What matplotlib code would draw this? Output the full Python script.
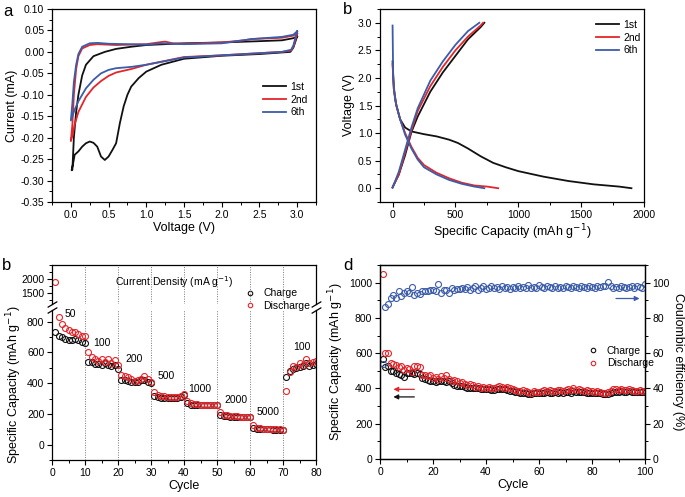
import matplotlib
matplotlib.use('Agg')
import matplotlib.pyplot as plt
from matplotlib.ticker import MultipleLocator

plt.rcParams['font.family'] = ['Liberation Sans', 'DejaVu Sans']
plt.rcParams['font.size'] = 7.5
plt.rcParams['xtick.direction'] = 'out'
plt.rcParams['ytick.direction'] = 'out'
plt.rcParams['axes.linewidth'] = 0.9

BLACK, RED, BLUE = '#111111', '#e3262b', '#3b5ca8'

# ---- panel a: CV curves (cathodic sweep then anodic sweep) ----
cv1_v = [3.0, 2.95, 2.91, 2.5, 2.0, 1.5, 1.2, 1.0, 0.9, 0.8, 0.75, 0.7, 0.65, 0.6, 0.55, 0.5, 0.45,
         0.4, 0.35, 0.3, 0.25, 0.2, 0.15, 0.1, 0.05, 0.03, 0.01,
         0.02, 0.04, 0.07, 0.1, 0.15, 0.2, 0.3, 0.45, 0.6, 0.8, 1.0, 1.5, 2.0, 2.5, 2.8, 2.95, 3.0]
cv1_i = [0.036, 0.01, 0.0, -0.005, -0.009, -0.016, -0.03, -0.046, -0.061, -0.081, -0.1, -0.127, -0.166,
         -0.213, -0.229, -0.244, -0.252, -0.244, -0.221, -0.212, -0.209, -0.213, -0.221, -0.232, -0.24,
         -0.26, -0.276,
         -0.275, -0.2, -0.14, -0.1, -0.055, -0.03, -0.01, 0.0, 0.007, 0.012, 0.016, 0.02, 0.022, 0.025,
         0.027, 0.032, 0.036]
cv2_v = [3.0, 2.95, 2.92, 2.8, 2.0, 1.5, 1.0, 0.8, 0.6, 0.5, 0.4, 0.3, 0.2, 0.1, 0.05, 0.02, 0.0,
         0.02, 0.04, 0.07, 0.1, 0.15, 0.25, 0.35, 0.6, 1.0, 1.2, 1.25, 1.35, 1.5, 2.0, 2.3, 2.4, 2.8, 2.95, 3.0]
cv2_i = [0.042, 0.012, 0.003, 0.0, -0.008, -0.012, -0.03, -0.04, -0.048, -0.056, -0.068, -0.083, -0.105,
         -0.14, -0.17, -0.195, -0.208,
         -0.17, -0.1, -0.04, -0.01, 0.008, 0.016, 0.018, 0.016, 0.018, 0.023, 0.024, 0.02, 0.019, 0.022,
         0.027, 0.03, 0.033, 0.038, 0.043]
cv6_v = [3.0, 2.95, 2.92, 2.8, 2.0, 1.5, 1.0, 0.8, 0.6, 0.5, 0.4, 0.3, 0.2, 0.1, 0.05, 0.0,
         0.02, 0.04, 0.07, 0.1, 0.15, 0.25, 0.35, 0.5, 1.0, 1.2, 1.5, 2.0, 2.4, 2.8, 2.95, 3.0]
cv6_i = [0.048, 0.015, 0.005, 0.0, -0.008, -0.013, -0.03, -0.035, -0.038, -0.042, -0.05, -0.065, -0.085,
         -0.115, -0.135, -0.16,
         -0.12, -0.07, -0.03, -0.005, 0.012, 0.02, 0.021, 0.019, 0.017, 0.02, 0.018, 0.02, 0.03, 0.035,
         0.04, 0.048]

# ---- panel b: galvanostatic profiles ----
d1_cap = [0, 10, 30, 60, 100, 150, 250, 350, 450, 520, 600, 700, 800, 900, 1000, 1200, 1400, 1600, 1800, 1900]
d1_v = [2.3, 1.8, 1.5, 1.25, 1.1, 1.03, 0.98, 0.94, 0.88, 0.82, 0.72, 0.58, 0.46, 0.38, 0.31, 0.21, 0.13, 0.07, 0.03, 0.0]
c1_cap = [0, 50, 100, 150, 200, 300, 400, 500, 600, 700, 730]
c1_v = [0.02, 0.25, 0.6, 1.02, 1.3, 1.75, 2.1, 2.4, 2.7, 2.92, 3.0]
d2_cap = [0, 10, 30, 60, 100, 150, 200, 250, 350, 450, 550, 650, 750, 840]
d2_v = [2.25, 1.8, 1.5, 1.25, 1.0, 0.75, 0.55, 0.42, 0.28, 0.18, 0.1, 0.05, 0.03, 0.0]
c2_cap = [0, 50, 100, 150, 200, 300, 400, 500, 600, 700, 720]
c2_v = [0.01, 0.25, 0.65, 1.05, 1.4, 1.85, 2.2, 2.5, 2.75, 2.95, 3.0]
d6_cap = [0, 5, 20, 60, 100, 150, 200, 250, 350, 450, 550, 650, 730]
d6_v = [2.95, 2.0, 1.6, 1.25, 0.97, 0.72, 0.52, 0.38, 0.25, 0.15, 0.08, 0.03, 0.0]
c6_cap = [0, 50, 100, 150, 200, 300, 400, 500, 600, 690]
c6_v = [0.01, 0.3, 0.7, 1.1, 1.45, 1.95, 2.3, 2.6, 2.85, 3.0]

# ---- panel c: rate capability ----
rate_cycle = list(range(1, 81))
rate_charge = [730, 710, 700, 690, 680, 680, 690, 680, 670, 660,
               540, 540, 525, 525, 520, 530, 520, 510, 520, 490,
               420, 420, 415, 410, 405, 410, 420, 420, 405, 400,
               315, 310, 305, 305, 305, 305, 305, 305, 310, 325,
               270, 260, 255, 255, 255, 255, 255, 255, 255, 255,
               195, 185, 185, 182, 180, 180, 178, 178, 178, 178,
               110, 102, 100, 100, 100, 100, 98, 98, 97, 97,
               440, 480, 490, 500, 505, 510, 530, 510, 520, 525]
rate_discharge = [1900, 830, 785, 760, 745, 730, 735, 720, 710, 710,
                  600, 570, 555, 545, 555, 540, 555, 530, 550, 520,
                  450, 445, 440, 430, 415, 420, 425, 445, 430, 410,
                  345, 320, 315, 315, 310, 310, 310, 310, 315, 330,
                  285, 270, 265, 262, 260, 260, 258, 258, 258, 258,
                  210, 195, 190, 188, 185, 185, 183, 182, 182, 182,
                  125, 110, 105, 103, 102, 101, 100, 100, 99, 98,
                  350, 475, 510, 505, 530, 520, 555, 530, 540, 545]
rate_labels = ['50', '100', '200', '500', '1000', '2000', '5000', '100']
rate_label_x = [5.5, 15.2, 24.8, 34.5, 44.8, 55.8, 65.6, 75.7]
rate_label_y = [850, 662, 560, 444, 364, 288, 211, 632]

# ---- panel d: cycling at constant current ----
cyc = list(range(1, 101))
cyc_charge = [565, 520, 530, 500, 500, 490, 480, 475, 465, 485,
              485, 490, 480, 490, 480, 460, 455, 450, 440, 445,
              435, 445, 440, 440, 435, 440, 430, 420, 415, 415,
              415, 410, 405, 405, 400, 400, 400, 395, 395, 395,
              395, 390, 390, 395, 395, 395, 395, 390, 385, 385,
              380, 380, 375, 375, 375, 370, 370, 375, 375, 375,
              375, 375, 380, 375, 375, 380, 375, 380, 375, 380,
              380, 375, 385, 380, 380, 380, 380, 375, 375, 375,
              375, 375, 375, 370, 370, 370, 375, 380, 380, 380,
              385, 380, 380, 385, 380, 380, 380, 380, 380, 380]
cyc_discharge = [1050, 600, 600, 545, 540, 535, 520, 525, 505, 515,
                 510, 495, 530, 525, 520, 475, 475, 470, 475, 460,
                 465, 455, 470, 460, 475, 455, 445, 450, 440, 430,
                 435, 425, 420, 425, 420, 410, 415, 405, 410, 400,
                 410, 400, 405, 410, 415, 410, 405, 410, 400, 395,
                 390, 385, 385, 390, 385, 380, 375, 385, 380, 380,
                 385, 390, 385, 390, 385, 385, 390, 390, 385, 390,
                 395, 390, 400, 390, 395, 390, 385, 390, 385, 385,
                 380, 385, 380, 375, 375, 380, 385, 395, 395, 390,
                 395, 390, 390, 395, 390, 385, 385, 390, 385, 385]
cyc_ce = [54, 86, 88, 91.5, 93, 91.5, 95, 92.5, 94, 95,
          94, 97.5, 93, 94, 93.5, 95.5, 95.5, 95, 96, 96,
          95, 99.5, 94, 96, 96, 94, 97, 96, 96.5, 96.5,
          97, 96.5, 97.5, 96, 97, 98, 96, 97, 98, 96.5,
          97, 98, 97, 97.5, 96.5, 98, 97, 97.5, 96.5, 97.5,
          97, 98, 97, 97.5, 97, 98.5, 97, 97.5, 97, 98.5,
          97.5, 97, 98, 97.5, 97, 98, 97, 97.5, 97, 98,
          97.5, 97, 98, 97.5, 97, 98, 97.5, 97, 98, 97.5,
          97, 98, 97.5, 98, 98, 100.5, 98, 97, 97.5, 97,
          98, 97.5, 97, 97.5, 98, 97, 98, 97.5, 97, 99]

W, H = 685, 497
fig = plt.figure(figsize=(W / 100, H / 100), dpi=100)


def rect(l, t, r, b):
    return [l / W, 1 - b / H, (r - l) / W, (b - t) / H]


def style(ax):
    ax.tick_params(which='major', length=3.5, width=0.8, labelsize=7.5, pad=2)
    ax.tick_params(which='minor', length=2, width=0.7)
    ax.tick_params(top=False, right=False)


mk = dict(marker='o', ms=4.3, mfc='none', mew=0.8, ls='none')
leg_mk = dict(frameon=False, fontsize=7.5, handlelength=1, handletextpad=0.8, labelspacing=0.2,
              borderpad=0, markerscale=0.75)

# panel a
ax = fig.add_axes(rect(52, 9, 316, 202))
for v, i, c, lab in [(cv1_v, cv1_i, BLACK, '1st'), (cv2_v, cv2_i, RED, '2nd'), (cv6_v, cv6_i, BLUE, '6th')]:
    ax.plot(v, i, color=c, lw=1.3, label=lab)
ax.set_xlim(-0.25, 3.25)
ax.set_ylim(-0.35, 0.10)
ax.xaxis.set_major_locator(MultipleLocator(0.5))
ax.xaxis.set_minor_locator(MultipleLocator(0.25))
ax.yaxis.set_major_locator(MultipleLocator(0.05))
ax.yaxis.set_minor_locator(MultipleLocator(0.025))
ax.xaxis.set_major_formatter(matplotlib.ticker.FormatStrFormatter('%.1f'))
ax.yaxis.set_major_formatter(matplotlib.ticker.FormatStrFormatter('%.2f'))
style(ax)
ax.set_xlabel('Voltage (V)', fontsize=9, labelpad=2)
ax.set_ylabel('Current (mA)', fontsize=9, labelpad=2)
ax.legend(loc='center left', bbox_to_anchor=(0.78, 0.53), frameon=False, fontsize=7.5,
          handlelength=2.2, handletextpad=0.4, labelspacing=0.25, borderpad=0)
fig.text(3 / W, 1 - 12 / H, 'a', fontsize=12, va='center')

# panel b
ax = fig.add_axes(rect(380, 9, 644, 202))
ax.plot(d1_cap, d1_v, color=BLACK, lw=1.3, label='1st')
ax.plot(c1_cap, c1_v, color=BLACK, lw=1.3)
ax.plot(d2_cap, d2_v, color=RED, lw=1.3, label='2nd')
ax.plot(c2_cap, c2_v, color=RED, lw=1.3)
ax.plot(d6_cap, d6_v, color=BLUE, lw=1.3, label='6th')
ax.plot(c6_cap, c6_v, color=BLUE, lw=1.3)
ax.set_xlim(-100, 2000)
ax.set_ylim(-0.25, 3.25)
ax.xaxis.set_major_locator(MultipleLocator(500))
ax.xaxis.set_minor_locator(MultipleLocator(250))
ax.yaxis.set_major_locator(MultipleLocator(0.5))
ax.yaxis.set_minor_locator(MultipleLocator(0.25))
ax.yaxis.set_major_formatter(matplotlib.ticker.FormatStrFormatter('%.1f'))
style(ax)
ax.set_xlabel('Specific Capacity (mAh g$^{-1}$)', fontsize=9, labelpad=2)
ax.set_ylabel('Voltage (V)', fontsize=9, labelpad=2)
ax.legend(loc='upper left', bbox_to_anchor=(0.8, 0.97), frameon=False, fontsize=7.5,
          handlelength=2.2, handletextpad=0.4, labelspacing=0.25, borderpad=0)
fig.text(343 / W, 1 - 10 / H, 'b', fontsize=12, va='center')

# panel c (broken y axis)
axl = fig.add_axes(rect(52, 310, 316, 460))
axu = fig.add_axes(rect(52, 265, 316, 304))
for a in (axl, axu):
    a.set_facecolor('none')
    for x in range(10, 80, 10):
        a.axvline(x, color='#777777', ls=(0, (1, 1.5)), lw=0.7, zorder=0)
    a.plot(rate_cycle, rate_charge, color=BLACK, label='Charge', **mk)
    a.plot(rate_cycle, rate_discharge, color=RED, label='Discharge', **mk)
    a.set_xlim(0, 80)
    style(a)
axl.set_ylim(-100, 876)
axu.set_ylim(1088, 2510)
axl.spines['top'].set_visible(False)
axu.spines['bottom'].set_visible(False)
axu.tick_params(bottom=False, labelbottom=False)
axu.xaxis.set_minor_locator(matplotlib.ticker.NullLocator())
axl.xaxis.set_major_locator(MultipleLocator(10))
axl.xaxis.set_minor_locator(MultipleLocator(5))
axl.yaxis.set_major_locator(MultipleLocator(200))
axl.yaxis.set_minor_locator(MultipleLocator(100))
axu.set_yticks([1500, 2000])
axu.yaxis.set_minor_locator(MultipleLocator(250))
brk = dict(marker=[(-1, -0.6), (1, 0.6)], markersize=7, linestyle='none', color='k', mec='k', mew=0.9,
           clip_on=False)
axu.plot([0, 1], [0, 0], transform=axu.transAxes, **brk)
axl.plot([0, 1], [1, 1], transform=axl.transAxes, **brk)
for s, x, y in zip(rate_labels, rate_label_x, rate_label_y):
    axl.text(x, y, s, ha='center', va='center', fontsize=7.5)
axu.text(37, 1880, 'Current Density (mA g$^{-1}$)', ha='center', va='center', fontsize=7.5)
axl.set_xlabel('Cycle', fontsize=9, labelpad=2)
axl.set_ylabel('Specific Capacity (mAh g$^{-1}$)', fontsize=9, labelpad=2)
axl.legend(loc='center left', bbox_to_anchor=(0.71, 1.07), **leg_mk)
fig.text(2 / W, 1 - 266 / H, 'b', fontsize=12, va='center')

# panel d
ax = fig.add_axes(rect(380, 265, 645, 459))
ax.plot(cyc, cyc_charge, color=BLACK, label='Charge', **mk)
ax.plot(cyc, cyc_discharge, color=RED, label='Discharge', **mk)
ax.set_xlim(0, 100)
ax.set_ylim(0, 1100)
ax.xaxis.set_major_locator(MultipleLocator(20))
ax.xaxis.set_minor_locator(MultipleLocator(10))
ax.yaxis.set_major_locator(MultipleLocator(200))
ax.yaxis.set_minor_locator(MultipleLocator(100))
style(ax)
ax.set_xlabel('Cycle', fontsize=9, labelpad=2)
ax.set_ylabel('Specific Capacity (mAh g$^{-1}$)', fontsize=9, labelpad=2)
ax.legend(loc='center left', bbox_to_anchor=(0.765, 0.525), **leg_mk)
ax.annotate('', xy=(4, 395), xytext=(14, 395),
            arrowprops=dict(arrowstyle='-|>', color=RED, lw=0.9, mutation_scale=7))
ax.annotate('', xy=(4, 352), xytext=(14, 352),
            arrowprops=dict(arrowstyle='-|>', color=BLACK, lw=0.9, mutation_scale=7))
ax2 = ax.twinx()
ax2.plot(cyc, cyc_ce, color=BLUE, **mk)
ax2.set_ylim(0, 110)
ax2.yaxis.set_major_locator(MultipleLocator(20))
ax2.yaxis.set_minor_locator(MultipleLocator(10))
ax2.tick_params(which='major', length=3.5, width=0.8, labelsize=7.5, pad=2)
ax2.tick_params(which='minor', length=2, width=0.7)
ax2.set_ylabel('Coulombic efficiency (%)', fontsize=9, rotation=270, labelpad=10)
ax2.annotate('', xy=(99, 91), xytext=(88, 91),
             arrowprops=dict(arrowstyle='-|>', color=BLUE, lw=0.9, mutation_scale=7))
fig.text(343 / W, 1 - 266 / H, 'd', fontsize=12, va='center')

fig.savefig('out.png', dpi=100)
